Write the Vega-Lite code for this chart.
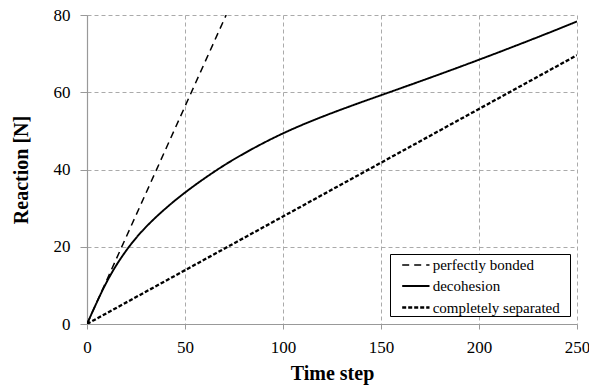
{
  "$schema": "https://vega.github.io/schema/vega-lite/v6.json",
  "width": 490,
  "height": 309,
  "autosize": {"type": "none"},
  "padding": {"left": 87, "top": 15, "right": 12, "bottom": 68},
  "background": "white",
  "config": {
    "view": {"stroke": null},
    "font": "Liberation Serif",
    "axis": {"labelFont": "Liberation Serif", "titleFont": "Liberation Serif"},
    "legend": {"labelFont": "Liberation Serif", "titleFont": "Liberation Serif"}
  },
  "data": {
    "values": [
      {"series": "perfectly bonded", "t": 0, "r": 0},
      {"series": "perfectly bonded", "t": 71, "r": 80},
      {"series": "decohesion", "t": 0, "r": 0},
      {"series": "decohesion", "t": 2, "r": 2.26},
      {"series": "decohesion", "t": 4, "r": 4.5},
      {"series": "decohesion", "t": 6, "r": 6.7},
      {"series": "decohesion", "t": 8, "r": 8.82},
      {"series": "decohesion", "t": 10, "r": 10.82},
      {"series": "decohesion", "t": 12, "r": 12.68},
      {"series": "decohesion", "t": 14, "r": 14.42},
      {"series": "decohesion", "t": 16, "r": 16.04},
      {"series": "decohesion", "t": 18, "r": 17.56},
      {"series": "decohesion", "t": 20, "r": 19.0},
      {"series": "decohesion", "t": 22, "r": 20.36},
      {"series": "decohesion", "t": 25, "r": 22.25},
      {"series": "decohesion", "t": 28, "r": 23.99},
      {"series": "decohesion", "t": 30, "r": 25.07},
      {"series": "decohesion", "t": 35, "r": 27.57},
      {"series": "decohesion", "t": 40, "r": 29.87},
      {"series": "decohesion", "t": 45, "r": 32.02},
      {"series": "decohesion", "t": 50, "r": 34.02},
      {"series": "decohesion", "t": 55, "r": 35.92},
      {"series": "decohesion", "t": 60, "r": 37.72},
      {"series": "decohesion", "t": 65, "r": 39.45},
      {"series": "decohesion", "t": 70, "r": 41.1},
      {"series": "decohesion", "t": 80, "r": 44.1},
      {"series": "decohesion", "t": 90, "r": 46.85},
      {"series": "decohesion", "t": 100, "r": 49.35},
      {"series": "decohesion", "t": 110, "r": 51.6},
      {"series": "decohesion", "t": 120, "r": 53.65},
      {"series": "decohesion", "t": 130, "r": 55.58},
      {"series": "decohesion", "t": 140, "r": 57.43},
      {"series": "decohesion", "t": 150, "r": 59.23},
      {"series": "decohesion", "t": 160, "r": 61.03},
      {"series": "decohesion", "t": 170, "r": 62.84},
      {"series": "decohesion", "t": 180, "r": 64.67},
      {"series": "decohesion", "t": 190, "r": 66.53},
      {"series": "decohesion", "t": 200, "r": 68.42},
      {"series": "decohesion", "t": 210, "r": 70.34},
      {"series": "decohesion", "t": 220, "r": 72.29},
      {"series": "decohesion", "t": 230, "r": 74.27},
      {"series": "decohesion", "t": 240, "r": 76.28},
      {"series": "decohesion", "t": 250, "r": 78.32},
      {"series": "completely separated", "t": 0, "r": 0},
      {"series": "completely separated", "t": 250, "r": 69.6}
    ]
  },
  "mark": {"type": "line", "color": "black", "clip": true, "interpolate": "monotone"},
  "encoding": {
    "x": {
      "field": "t", "type": "quantitative",
      "scale": {"domain": [0, 250], "nice": false},
      "axis": {
        "title": "Time step",
        "values": [0, 50, 100, 150, 200, 250],
        "grid": true, "gridColor": "#aaaaaa", "gridDash": [4, 3], "gridWidth": 1,
        "domainColor": "#999999", "domainWidth": 1.2,
        "tickColor": "#999999", "tickSize": 5,
        "labelFont": "Liberation Serif", "labelFontSize": 17, "labelColor": "black", "labelPadding": 10,
        "labelFlush": false,
        "titleFont": "Liberation Serif", "titleFontSize": 20, "titleFontWeight": "bold", "titleColor": "black", "titlePadding": 8
      }
    },
    "y": {
      "field": "r", "type": "quantitative",
      "scale": {"domain": [0, 80], "nice": false},
      "axis": {
        "title": "Reaction [N]",
        "values": [0, 20, 40, 60, 80],
        "grid": true, "gridColor": "#aaaaaa", "gridDash": [4, 3], "gridWidth": 1,
        "domainColor": "#999999", "domainWidth": 1.2,
        "tickColor": "#999999", "tickSize": 7,
        "labelFont": "Liberation Serif", "labelFontSize": 17, "labelColor": "black", "labelPadding": 10,
        "labelFlush": false,
        "titleFont": "Liberation Serif", "titleFontSize": 20, "titleFontWeight": "bold", "titleColor": "black", "titlePadding": 22
      }
    },
    "strokeDash": {
      "field": "series", "type": "nominal",
      "scale": {
        "domain": ["perfectly bonded", "decohesion", "completely separated"],
        "range": [[7, 5], [1, 0], [4, 2]]
      },
      "legend": {
        "title": "\u00a0",
        "titleOrient": "right", "titlePadding": 10, "titleFontSize": 1,
        "orient": "none", "legendX": 303, "legendY": 239,
        "padding": 0, "strokeColor": "black", "fillColor": "white", "cornerRadius": 0,
        "symbolType": "M0.07,0H2.8", "symbolSize": 400, "symbolStrokeColor": "black", "symbolStrokeWidth": 1.5,
        "labelFont": "Liberation Serif", "labelFontSize": 15, "labelColor": "black", "labelOffset": 19.7,
        "labelLimit": 300,
        "rowPadding": 2
      }
    },
    "strokeWidth": {
      "field": "series", "type": "nominal",
      "scale": {
        "domain": ["perfectly bonded", "decohesion", "completely separated"],
        "range": [1.5, 2.3, 1.3]
      },
      "legend": null
    }
  }
}
